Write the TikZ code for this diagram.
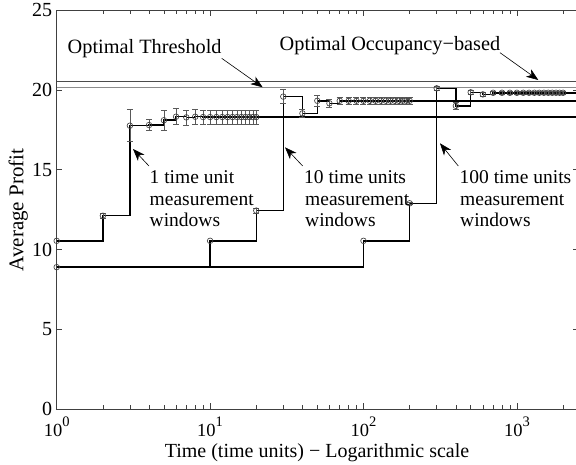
\documentclass[tikz,border=0pt]{standalone}
\usepackage{fontspec}
\setmainfont{Liberation Serif}
\usetikzlibrary{arrows.meta}
\tikzset{
  axisline/.style={draw=black!75, line width=0.7pt},
  tickmark/.style={draw=black!75, line width=0.6pt},
  curve/.style={draw=black, line width=1.5pt, line join=miter},
  mk/.style={draw=black!75, line width=0.65pt},
  ebar/.style={draw=black!65, line width=0.6pt},
  optline/.style={line width=0.9pt},
  pointer/.style={draw=black, line width=0.6pt, -{Stealth[length=12pt,width=9pt,inset=3.5pt]}},
  lbl/.style={font=\fontsize{19.5}{21.7}\selectfont, inner sep=0pt, anchor=base west},
  ticklbl/.style={font=\fontsize{20}{24}\selectfont, inner sep=0pt},
}
\newcommand{\errpt}[3]{%
  \pgfmathsetmacro\lx{log10(#1)}%
  \ifdim #3pt>0pt
    \draw[ebar] (\lx,{#2-#3}) -- (\lx,{#2+#3});
    \draw[ebar] (\lx,{#2-#3}) ++(-3pt,0pt) -- ++(6pt,0pt);
    \draw[ebar] (\lx,{#2+#3}) ++(-3pt,0pt) -- ++(6pt,0pt);
  \fi
  \draw[mk] (\lx,#2) circle[radius=2.8pt];
}
\begin{document}
\begin{tikzpicture}[x=1pt,y=-1pt]
\useasboundingbox (0,0) rectangle (576,464);
\fill[white] (0,0) rectangle (576,464);

\begin{scope}[shift={(56.7,409.3)}, x=153.4pt, y=15.97pt]
  % optimal levels
  \draw[optline, draw=black!70] (0,20.56) -- (3.42,20.56);
  \draw[optline, draw=black!45] (0,20.16) -- (3.42,20.16);

  % axes box
  \draw[axisline] (0,25) -- (0,0) -- (3.398,0) -- (3.398,25) -- cycle;
  % x ticks
  \foreach \d in {0,1,2,3} {
    \draw[tickmark] (\d,0) -- ++(0pt,6pt);
    \draw[tickmark] (\d,25) -- ++(0pt,-6pt);
  }
  \foreach \d in {0,1,2} {
    \foreach \m in {2,...,9} {
      \draw[tickmark] ({\d+log10(\m)},0) -- ++(0pt,4pt);
      \draw[tickmark] ({\d+log10(\m)},25) -- ++(0pt,-4pt);
    }
  }
  \draw[tickmark] ({3+log10(2)},0) -- ++(0pt,4pt);
  \draw[tickmark] ({3+log10(2)},25) -- ++(0pt,-4pt);
  % y ticks
  \foreach \v in {0,5,10,15,20,25} {
    \draw[tickmark] (0,\v) -- ++(5pt,0pt);
    \draw[tickmark] (3.398,\v) -- ++(-5pt,0pt);
    \node[ticklbl, anchor=east] (yl\v) at ([xshift=-4.5pt]0,\v) {\v};
  }
  % x tick labels
  \foreach \d in {0,1,2,3} {
    \node[anchor=base, inner sep=0pt, font=\fontsize{18.5}{20}\selectfont] (xl\d) at (\d,-1.716)
      {10\raisebox{10pt}{\fontsize{14.5}{15}\selectfont\d}};
  }

  % curve: 1 time unit windows
  \draw[curve] (0,10.55) -| ({log10(2)},12.12) -| ({log10(3)},17.76) -| ({log10(4)},17.8)
     -| ({log10(5)},18.1) -| ({log10(6)},18.32) -| ({log10(7)},18.28) -| ({log10(8)},18.32)
     -| ({log10(9)},18.3) -- (3.42,18.3);
  % curve: 10 time units windows
  \draw[curve] (0,8.9) -| (1,10.55) -| ({log10(20)},12.44) -| ({log10(30)},19.58)
     -| ({log10(40)},18.53) -| ({log10(50)},19.32) -| ({log10(60)},19.16)
     -| ({log10(70)},19.32) -- (3.42,19.32);
  % curve: 100 time units windows
  \draw[curve] (0,8.9) -| (2,10.55) -| ({log10(200)},12.9) -| ({log10(300)},20.1)
     -| ({log10(400)},19.0) -| ({log10(500)},19.85) -| ({log10(600)},19.72)
     -| ({log10(700)},19.82) -- (3.42,19.82);

  % markers + error bars
  \errpt{1}{10.55}{0}
  \errpt{2}{12.12}{0.15}
  \errpt{3}{17.76}{1.0}
  \errpt{4}{17.8}{0.33}
  \errpt{5}{18.1}{0.62}
  \errpt{6}{18.32}{0.5}
  \errpt{7}{18.28}{0.47}
  \errpt{8}{18.32}{0.45}
  \errpt{9}{18.3}{0.45}
  \foreach \t in {10,11,...,20} { \errpt{\t}{18.3}{0.43} }

  \errpt{1}{8.9}{0}
  \errpt{10}{10.55}{0}
  \errpt{20}{12.44}{0.15}
  \errpt{30}{19.58}{0.44}
  \errpt{40}{18.53}{0.23}
  \errpt{50}{19.32}{0.35}
  \errpt{60}{19.16}{0.23}
  \foreach \t in {70,80,...,200} { \errpt{\t}{19.32}{0.2} }

  \errpt{100}{10.55}{0}
  \errpt{200}{12.9}{0.08}
  \errpt{300}{20.1}{0.1}
  \errpt{400}{19.0}{0.22}
  \errpt{500}{19.85}{0.1}
  \errpt{600}{19.72}{0.1}
  \foreach \t in {700,800,...,2000} { \errpt{\t}{19.82}{0.08} }
\end{scope}

% axis titles
\node[anchor=base, inner sep=0pt, font=\fontsize{20}{24}\selectfont] (xlabel) at (317,457.3)
  {Time (time units) − Logarithmic scale};
\node[anchor=base, rotate=90, inner sep=0pt, font=\fontsize{21}{24}\selectfont] (ylabel) at (23.3,210)
  {Average Profit};

% annotations
\node[lbl, font=\fontsize{20.3}{24}\selectfont] (thr) at (67.5,53.3) {Optimal Threshold};
\node[lbl, font=\fontsize{20.3}{24}\selectfont] (occ) at (279.5,50.7) {Optimal Occupancy−based};
\coordinate (thrTail) at (221.7,58.3);
\coordinate (thrTip) at (262.7,87.3);
\coordinate (occTail) at (500,52.7);
\coordinate (occTip) at (538.3,80);
\draw[pointer] (thrTail) -- (thrTip);
\draw[pointer] (occTail) -- (occTip);

\node[lbl] (a1) at (149.5,183.3) {1 time unit};
\node[lbl] (a2) at (149.5,205) {measurement};
\node[lbl] (a3) at (149.5,226.7) {windows};
\node[lbl] (b1) at (304,183.3) {10 time units};
\node[lbl] (b2) at (305,205) {measurement};
\node[lbl] (b3) at (305,226.7) {windows};
\node[lbl] (c1) at (459.5,183.3) {100 time units};
\node[lbl] (c2) at (460,205) {measurement};
\node[lbl] (c3) at (460,226.7) {windows};

\coordinate (aTail) at (149,166);
\coordinate (aTip) at (133,149);
\coordinate (bTail) at (302.7,166);
\coordinate (bTip) at (285,147.3);
\coordinate (cTail) at (458.3,166);
\coordinate (cTip) at (440,143.3);
\draw[pointer] (aTail) -- (aTip);
\draw[pointer] (bTail) -- (bTip);
\draw[pointer] (cTail) -- (cTip);
\end{tikzpicture}
\end{document}
